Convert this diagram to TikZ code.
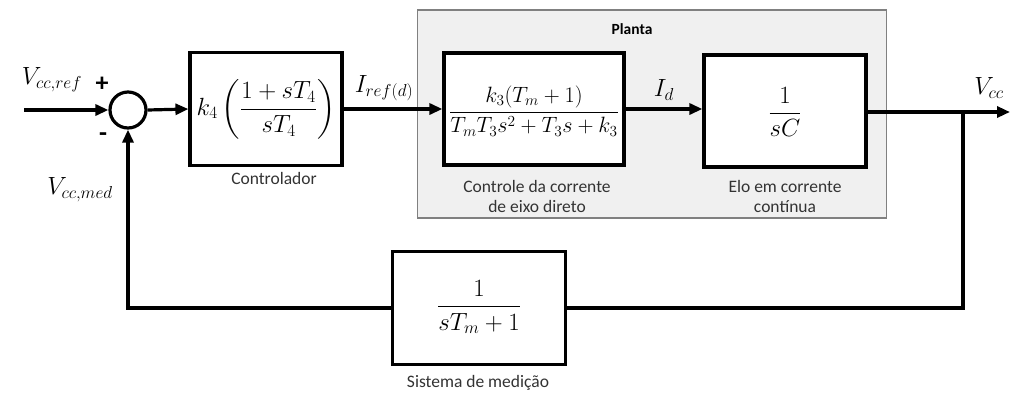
\documentclass[tikz,border=0pt]{standalone}
\usepackage{amsmath}
\usepackage{fontspec}
\setmainfont{Carlito}
\usetikzlibrary{arrows.meta}
\begin{document}
\begin{tikzpicture}[x=1pt,y=-1pt,
  line width=3.2pt,
  blk/.style={draw, line width=3.2pt, fill=white, inner sep=0pt},
  lbl/.style={font=\fontsize{17.5}{20}\selectfont, text=black!80, align=center},
  mth/.style={font=\fontsize{24}{28}\selectfont},
  sig/.style={font=\fontsize{27}{30}\selectfont},
  arr/.style={-{Triangle[length=13pt,width=11pt]}},
]
\useasboundingbox (0,0) rectangle (1010,392);
% plant background
\node[draw=black!50, line width=1.5pt, fill=black!6, minimum width=469pt, minimum height=208pt, inner sep=0pt] (planta) at (652,114) {};
\node[font=\fontsize{15.5}{18}\selectfont\bfseries] (plantalbl) at (632,29) {Planta};
% blocks
\node[blk, minimum width=152pt, minimum height=113pt] (ctrl) at (266,109) {};
\node[mth] (ctrltxt) at (266,109) {$k_4\left(\dfrac{1+sT_4}{sT_4}\right)$};
\node[blk, minimum width=180pt, minimum height=112pt] (g3) at (534,109) {};
\node[font=\fontsize{21.5}{26}\selectfont] (g3txt) at (534,111) {\resizebox{170pt}{!}{$\dfrac{k_3(T_m+1)}{T_mT_3s^2+T_3s+k_3}$}};
\node[blk, minimum width=162pt, minimum height=112pt] (gc) at (785,111) {};
\node[mth] (gctxt) at (785,112) {$\dfrac{1}{sC}$};
\node[blk, minimum width=173pt, minimum height=113pt] (meas) at (479,308) {};
\node[mth] (meastxt) at (479,307) {$\dfrac{1}{sT_m+1}$};
% sum
\node[draw, circle, line width=3.2pt, minimum size=36pt, inner sep=0pt] (sum) at (128,110) {};
% labels
\node[lbl] (l1) at (274,178) {Controlador};
\node[lbl] (l2) at (537,196) {Controle da corrente\\de eixo direto};
\node[lbl] (l3) at (785,196) {Elo em corrente\\contínua};
\node[lbl] (l4) at (478,383) {Sistema de medição};
% signal labels
\coordinate (in) at (24,110);
\coordinate (out) at (1010,112);
\coordinate (br) at (963,112);
\coordinate (brd) at (963,308);
\coordinate (fbl) at (128,308);
\node[sig] (vref) at (52,80) {$V_{cc,ref}$};
\node[font=\fontsize{26}{28}\selectfont\bfseries] (plus) at (102,84) {+};
\node[font=\fontsize{26}{28}\selectfont\bfseries] (minus) at (103,137) {-};
\node[sig] (vmed) at (80,190) {$V_{cc,med}$};
\node[sig] (iref) at (384,88) {$I_{ref(d)}$};
\node[sig] (id) at (664,90) {$I_d$};
\node[sig] (vcc) at (989,88) {$V_{cc}$};
% connectors
\draw[arr] (in) -- (sum.west);
\draw[arr] (sum.east) -- (ctrl.west);
\draw[arr] (ctrl.east) -- (ctrl.east -| g3.west);
\draw[arr] (g3.east) -- (g3.east -| gc.west);
\draw[arr] (gc.east |- out) -- (out);
\draw (br) -- (brd) -- (meas.east);
\draw[arr] (meas.west) -- (fbl) -- (sum.south);
\end{tikzpicture}
\end{document}
